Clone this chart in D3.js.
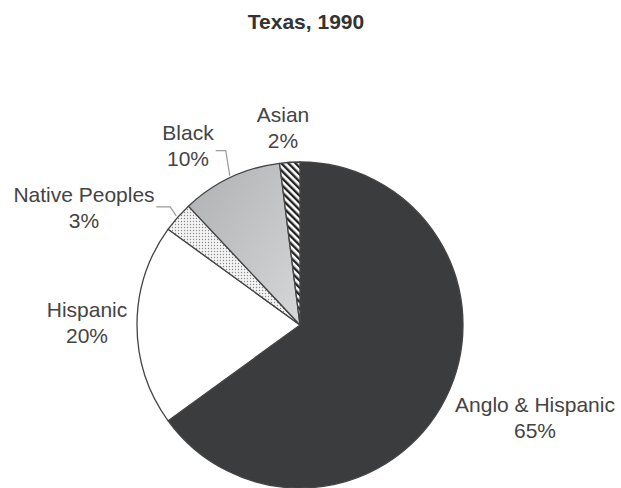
<!DOCTYPE html>
<html>
<head>
<meta charset="utf-8">
<script src="https://cdn.jsdelivr.net/npm/d3@7"></script>
<style>
  html, body { margin: 0; padding: 0; background: #fff; }
  svg { display: block; font-family: "Liberation Sans", Arial, sans-serif; }
</style>
</head>
<body>
<div id="chart"></div>
<script>
// Texas 1990 population shares, clockwise from 12 o'clock
const CATEGORIES = ['Anglo & Hispanic', 'Hispanic', 'Native Peoples', 'Black', 'Asian'];
const VALUES     = [65, 20, 3, 10, 2];
const LABELS     = ['65%', '20%', '3%', '10%', '2%'];

const FILLS = {
  'Anglo & Hispanic': '#3b3c3e',
  'Hispanic':         '#ffffff',
  'Native Peoples':   'url(#dots)',
  'Black':            'url(#grayGrad)',
  'Asian':            'url(#hatch)',
};

// hand placed label centres (relative to pie centre) and leader elbows
const LABEL_POS = {
  'Anglo & Hispanic': [235, 94],
  'Hispanic':         [-213, -1],
  'Native Peoples':   [-216, -116],
  'Black':            [-112, -178],
  'Asian':            [-17, -196],
};
const LEADERS = {
  'Native Peoples': { elbow: [-6, -9], run: 14 },
  'Black':          { elbow: [-4, -25], run: 10 },
};

const W = 621, H = 488;
const cx = 300, cy = 325, R = 163;

const svg = d3.select('#chart').append('svg').attr('width', W).attr('height', H);
const defs = svg.append('defs');

// light gray gradient for Black slice
const grad = defs.append('linearGradient').attr('id', 'grayGrad')
  .attr('x1', '0%').attr('y1', '0%').attr('x2', '100%').attr('y2', '100%');
grad.append('stop').attr('offset', '0%').attr('stop-color', '#aeb0b2');
grad.append('stop').attr('offset', '100%').attr('stop-color', '#d6d7d9');

// fine dots for Native Peoples
const dots = defs.append('pattern').attr('id', 'dots')
  .attr('patternUnits', 'userSpaceOnUse').attr('width', 3).attr('height', 3);
dots.append('rect').attr('width', 3).attr('height', 3).attr('fill', '#f4f4f4');
dots.append('circle').attr('cx', 1.5).attr('cy', 1.5).attr('r', 0.7).attr('fill', '#8a8a8a');

// diagonal hatch for Asian
const hatch = defs.append('pattern').attr('id', 'hatch')
  .attr('patternUnits', 'userSpaceOnUse').attr('width', 5).attr('height', 5)
  .attr('patternTransform', 'rotate(-45)');
hatch.append('rect').attr('width', 5).attr('height', 5).attr('fill', '#fff');
hatch.append('rect').attr('width', 2.4).attr('height', 5).attr('fill', '#222');

// title
svg.append('text')
  .attr('x', 306).attr('y', 29)
  .attr('text-anchor', 'middle')
  .attr('fill', '#333').style('font-size', '21px').style('font-weight', 'bold')
  .text('Texas, 1990');

const data = CATEGORIES.map((c, i) => ({ cat: c, value: VALUES[i], label: LABELS[i] }));

const pie = d3.pie().value(d => d.value).sort(null);
const arcs = pie(data);
const arc = d3.arc().innerRadius(0).outerRadius(R);
const edgeArc = d3.arc().innerRadius(R + 2).outerRadius(R + 2);

const g = svg.append('g').attr('transform', `translate(${cx},${cy})`);

g.selectAll('path.slice')
  .data(arcs)
  .join('path')
  .attr('class', 'slice')
  .attr('d', arc)
  .attr('fill', d => FILLS[d.data.cat])
  .attr('stroke', '#444')
  .attr('stroke-width', 1.3)
  .attr('stroke-linejoin', 'round');

// leader lines
for (const a of arcs) {
  const ld = LEADERS[a.data.cat];
  if (!ld) continue;
  const end = edgeArc.centroid(a);
  const elbow = [end[0] + ld.elbow[0], end[1] + ld.elbow[1]];
  const start = [elbow[0] - ld.run, elbow[1]];
  g.append('polyline')
    .attr('points', [start, elbow, end].map(p => p.join(',')).join(' '))
    .attr('fill', 'none').attr('stroke', '#999').attr('stroke-width', 1.2);
}

// labels
const lab = g.selectAll('g.lab')
  .data(arcs)
  .join('g')
  .attr('class', 'lab')
  .attr('transform', d => `translate(${LABEL_POS[d.data.cat]})`);

lab.append('text')
  .attr('text-anchor', 'middle').attr('y', -7)
  .attr('fill', '#444').style('font-size', '21px')
  .text(d => d.data.cat);
lab.append('text')
  .attr('text-anchor', 'middle').attr('y', 19)
  .attr('fill', '#444').style('font-size', '21px')
  .text(d => d.data.label);
</script>
</body>
</html>
